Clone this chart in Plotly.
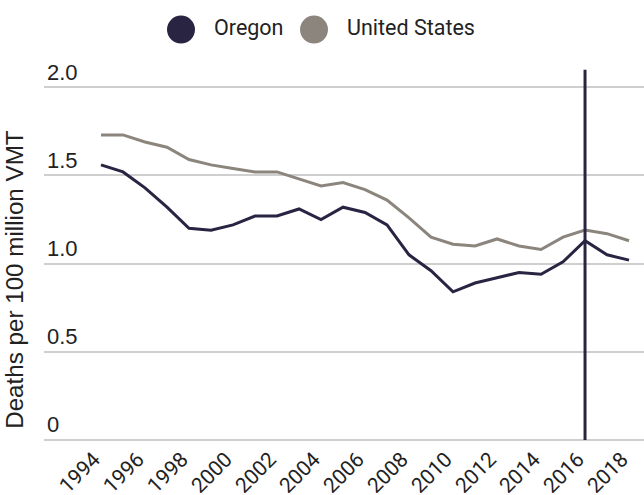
import plotly.graph_objects as go

years = list(range(1994, 2019))
oregon = [1.56, 1.52, 1.43, 1.32, 1.20, 1.19, 1.22, 1.27, 1.27, 1.31, 1.25, 1.32,
          1.29, 1.22, 1.05, 0.96, 0.84, 0.89, 0.92, 0.95, 0.94, 1.01, 1.13, 1.05, 1.02]
us = [1.73, 1.73, 1.69, 1.66, 1.59, 1.56, 1.54, 1.52, 1.52, 1.48, 1.44, 1.46,
      1.42, 1.36, 1.26, 1.15, 1.11, 1.10, 1.14, 1.10, 1.08, 1.15, 1.19, 1.17, 1.13]
series_names = ["Oregon", "United States"]
series_colors = ["#282442", "#8c857d"]
marker_year = 2016
marker_top = 2.1
y_tickvals = [0, 0.5, 1.0, 1.5, 2.0]
y_ticktext = ["0", "0.5", "1.0", "1.5", "2.0"]
x_tickvals = list(range(1994, 2019, 2))
y_title = "Deaths per 100 million VMT"

fig = go.Figure()
for name, vals, col in zip(series_names, [oregon, us], series_colors):
    fig.add_trace(go.Scatter(x=years, y=vals, mode="lines", name=name,
                             line=dict(color=col, width=3), showlegend=False,
                             cliponaxis=False))

fig.add_shape(type="line", x0=marker_year, x1=marker_year, y0=0, y1=marker_top,
              xref="x", yref="y", line=dict(color=series_colors[0], width=3), layer="above")

# manual legend (large circles); plot area: x 44..644, y 52.4..440 (range 0..2.2)
PL, PW = 44, 600
def px_x(p):
    return (p - PL) / PW

def px_y(p):
    return (440 - p) / 387.6

leg = [(167, 214), (300, 347)]
for (cx, tx), name, col in zip(leg, series_names, series_colors):
    fig.add_shape(type="circle", xref="paper", yref="paper",
                  x0=px_x(cx), x1=px_x(cx + 28), y0=px_y(44), y1=px_y(16),
                  fillcolor=col, line=dict(width=0))
    fig.add_annotation(x=px_x(tx - 2), y=px_y(28), xref="paper", yref="paper", text=name,
                       showarrow=False, xanchor="left", yanchor="middle",
                       font=dict(family="Roboto", size=21.5, color="#222222"))

# y-axis title as rotated annotation
fig.add_annotation(x=px_x(15), y=px_y(280), xref="paper", yref="paper", text=y_title,
                   textangle=-90, showarrow=False, xanchor="center", yanchor="middle",
                   font=dict(family="Liberation Sans", size=24.2, color="#222222"))

fig.update_layout(
    width=644, height=495,
    margin=dict(l=PL, r=0, t=52.4, b=55),
    plot_bgcolor="white", paper_bgcolor="white",
    showlegend=False,
    xaxis=dict(range=[1991.41, 2018.68], tickvals=x_tickvals, tickangle=-45,
               showgrid=False, zeroline=False, showline=False, ticks="",
               automargin=False, ticklabelshift=-7, ticklabelstandoff=2,
               tickfont=dict(family="Roboto", size=21, color="#222222")),
    yaxis=dict(range=[0, 2.2], tickvals=y_tickvals, ticktext=y_ticktext,
               ticklabelposition="inside top", showgrid=True, automargin=False,
               ticklabelstandoff=0,
               gridcolor="#cfcfcf", gridwidth=1.5, zeroline=True,
               zerolinecolor="#cfcfcf", zerolinewidth=1.5, showline=False,
               ticks="", tickfont=dict(family="Liberation Sans", size=22, color="#222222")),
)

fig.write_html("out.html", config={"displayModeBar": False},
               post_script="document.body.style.margin='0';document.body.style.overflow='hidden';")
